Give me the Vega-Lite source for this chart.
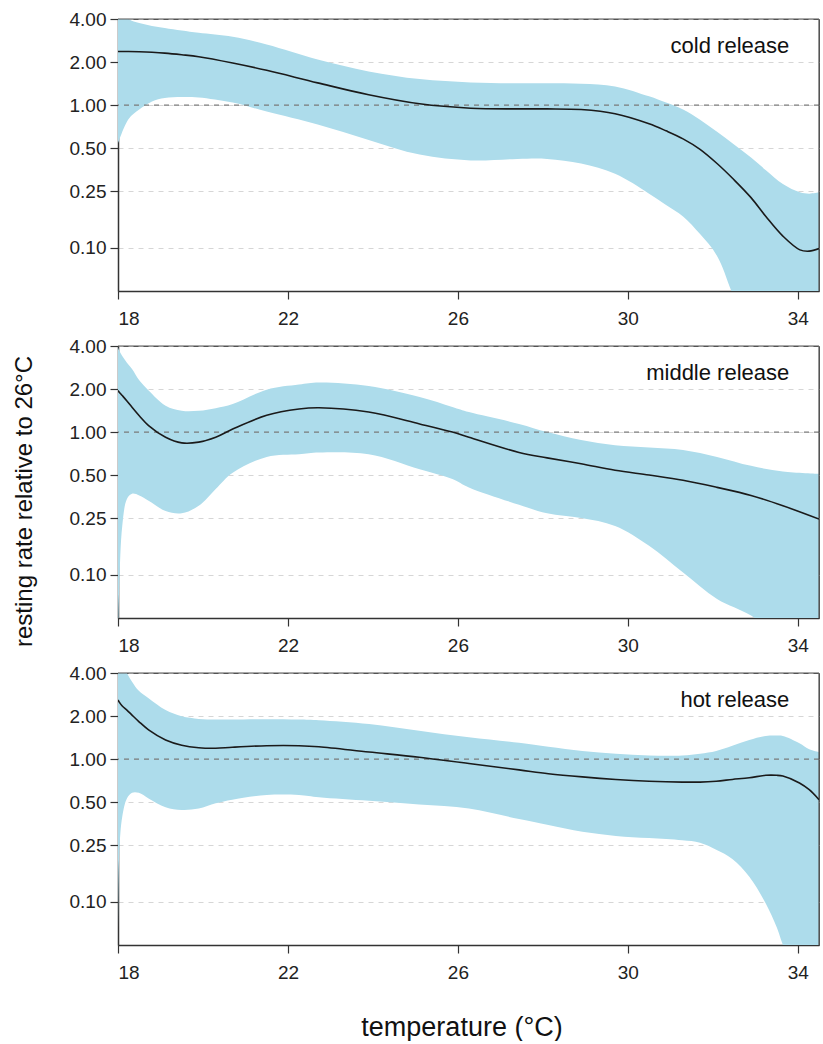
{
  "$schema": "https://vega.github.io/schema/vega-lite/v6.json",
  "background": "white",
  "padding": {"left": 11, "top": 9, "right": 0, "bottom": 0},
  "bounds": "flush",
  "spacing": 55,
  "config": {
    "font": "Liberation Sans",
    "view": {"stroke": "#555", "strokeWidth": 1},
    "axis": {
      "domainColor": "#333", "domainWidth": 1.5,
      "tickColor": "#333", "tickWidth": 1.2, "tickSize": 8,
      "labelFont": "Liberation Sans", "labelFontSize": 19, "labelColor": "#222", "labelPadding": 4,
      "titleFont": "Liberation Sans", "titleFontWeight": "normal", "titleColor": "#111"
    },
    "axisY": {"grid": true, "gridColor": "#d6d6d6", "gridDash": [5, 5], "gridWidth": 1},
    "axisX": {"grid": false, "labelPadding": 10}
  },
  "datasets": {
    "cold": [
      {"t": 18, "fit": 2.37, "lo": 0.54, "hi": 5.0},
      {"t": 18.25, "fit": 2.37, "lo": 0.80, "hi": 4.0},
      {"t": 18.5, "fit": 2.36, "lo": 0.93, "hi": 3.75},
      {"t": 18.8, "fit": 2.34, "lo": 1.06, "hi": 3.58},
      {"t": 19.1, "fit": 2.31, "lo": 1.12, "hi": 3.46},
      {"t": 19.5, "fit": 2.25, "lo": 1.14, "hi": 3.32},
      {"t": 19.9, "fit": 2.18, "lo": 1.13, "hi": 3.2},
      {"t": 20.7, "fit": 1.97, "lo": 1.04, "hi": 3.0},
      {"t": 21.5, "fit": 1.75, "lo": 0.90, "hi": 2.65},
      {"t": 22.7, "fit": 1.43, "lo": 0.73, "hi": 2.08},
      {"t": 23.9, "fit": 1.18, "lo": 0.57, "hi": 1.72},
      {"t": 25.1, "fit": 1.02, "lo": 0.45, "hi": 1.52},
      {"t": 26.3, "fit": 0.95, "lo": 0.41, "hi": 1.44},
      {"t": 27.4, "fit": 0.94, "lo": 0.42, "hi": 1.42},
      {"t": 28.1, "fit": 0.94, "lo": 0.42, "hi": 1.42},
      {"t": 28.9, "fit": 0.93, "lo": 0.39, "hi": 1.41},
      {"t": 29.7, "fit": 0.87, "lo": 0.33, "hi": 1.35},
      {"t": 30.5, "fit": 0.74, "lo": 0.24, "hi": 1.15},
      {"t": 30.9, "fit": 0.66, "lo": 0.20, "hi": 1.04},
      {"t": 31.3, "fit": 0.58, "lo": 0.166, "hi": 0.93},
      {"t": 31.7, "fit": 0.49, "lo": 0.125, "hi": 0.79},
      {"t": 32.1, "fit": 0.39, "lo": 0.088, "hi": 0.65},
      {"t": 32.5, "fit": 0.30, "lo": 0.045, "hi": 0.53},
      {"t": 32.9, "fit": 0.225, "lo": 0.025, "hi": 0.43},
      {"t": 33.25, "fit": 0.166, "lo": 0.016, "hi": 0.35},
      {"t": 33.65, "fit": 0.121, "lo": 0.011, "hi": 0.28},
      {"t": 34.05, "fit": 0.097, "lo": 0.008, "hi": 0.245},
      {"t": 34.27, "fit": 0.095, "lo": 0.007, "hi": 0.24},
      {"t": 34.5, "fit": 0.099, "lo": 0.006, "hi": 0.245}
    ],
    "middle": [
      {"t": 18, "fit": 1.95, "lo": 0.03, "hi": 3.9},
      {"t": 18.03, "fit": 1.9, "lo": 0.084, "hi": 3.7},
      {"t": 18.1, "fit": 1.8, "lo": 0.22, "hi": 3.4},
      {"t": 18.21, "fit": 1.65, "lo": 0.34, "hi": 3.05},
      {"t": 18.33, "fit": 1.49, "lo": 0.37, "hi": 2.76},
      {"t": 18.5, "fit": 1.3, "lo": 0.36, "hi": 2.3},
      {"t": 18.72, "fit": 1.11, "lo": 0.33, "hi": 1.95},
      {"t": 19.12, "fit": 0.92, "lo": 0.28, "hi": 1.53},
      {"t": 19.5, "fit": 0.84, "lo": 0.27, "hi": 1.41},
      {"t": 19.9, "fit": 0.85, "lo": 0.305, "hi": 1.41},
      {"t": 20.3, "fit": 0.92, "lo": 0.40, "hi": 1.47},
      {"t": 20.7, "fit": 1.05, "lo": 0.52, "hi": 1.57},
      {"t": 21.5, "fit": 1.31, "lo": 0.67, "hi": 1.98},
      {"t": 22.26, "fit": 1.45, "lo": 0.70, "hi": 2.15},
      {"t": 22.73, "fit": 1.48, "lo": 0.72, "hi": 2.22},
      {"t": 23.9, "fit": 1.38, "lo": 0.70, "hi": 2.1},
      {"t": 25.1, "fit": 1.14, "lo": 0.55, "hi": 1.76},
      {"t": 25.87, "fit": 1.0, "lo": 0.47, "hi": 1.5},
      {"t": 26.26, "fit": 0.92, "lo": 0.41, "hi": 1.38},
      {"t": 27.44, "fit": 0.72, "lo": 0.31, "hi": 1.14},
      {"t": 28.1, "fit": 0.66, "lo": 0.27, "hi": 1.0},
      {"t": 28.9, "fit": 0.60, "lo": 0.25, "hi": 0.88},
      {"t": 29.7, "fit": 0.54, "lo": 0.22, "hi": 0.81},
      {"t": 30.5, "fit": 0.50, "lo": 0.16, "hi": 0.78},
      {"t": 31.3, "fit": 0.46, "lo": 0.104, "hi": 0.75},
      {"t": 32.1, "fit": 0.41, "lo": 0.068, "hi": 0.67},
      {"t": 32.9, "fit": 0.36, "lo": 0.052, "hi": 0.58},
      {"t": 33.65, "fit": 0.305, "lo": 0.035, "hi": 0.53},
      {"t": 34.5, "fit": 0.246, "lo": 0.02, "hi": 0.51}
    ],
    "hot": [
      {"t": 18, "fit": 2.59, "lo": 0.04, "hi": 6.0},
      {"t": 18.03, "fit": 2.5, "lo": 0.22, "hi": 5.5},
      {"t": 18.1, "fit": 2.35, "lo": 0.395, "hi": 4.8},
      {"t": 18.21, "fit": 2.2, "lo": 0.53, "hi": 4.0},
      {"t": 18.33, "fit": 2.03, "lo": 0.58, "hi": 3.48},
      {"t": 18.49, "fit": 1.83, "lo": 0.58, "hi": 3.0},
      {"t": 18.72, "fit": 1.60, "lo": 0.53, "hi": 2.66},
      {"t": 19.12, "fit": 1.36, "lo": 0.46, "hi": 2.2},
      {"t": 19.5, "fit": 1.25, "lo": 0.44, "hi": 1.99},
      {"t": 19.9, "fit": 1.20, "lo": 0.45, "hi": 1.91},
      {"t": 20.3, "fit": 1.19, "lo": 0.49, "hi": 1.89},
      {"t": 20.69, "fit": 1.21, "lo": 0.52, "hi": 1.89},
      {"t": 21.5, "fit": 1.24, "lo": 0.56, "hi": 1.9},
      {"t": 22.26, "fit": 1.24, "lo": 0.56, "hi": 1.89},
      {"t": 22.73, "fit": 1.22, "lo": 0.54, "hi": 1.87},
      {"t": 23.91, "fit": 1.12, "lo": 0.51, "hi": 1.76},
      {"t": 25.09, "fit": 1.03, "lo": 0.48, "hi": 1.58},
      {"t": 26.26, "fit": 0.93, "lo": 0.45, "hi": 1.42},
      {"t": 27.44, "fit": 0.84, "lo": 0.38, "hi": 1.30},
      {"t": 28.13, "fit": 0.79, "lo": 0.345, "hi": 1.22},
      {"t": 28.93, "fit": 0.75, "lo": 0.31, "hi": 1.14},
      {"t": 29.72, "fit": 0.72, "lo": 0.29, "hi": 1.09},
      {"t": 30.5, "fit": 0.70, "lo": 0.28, "hi": 1.06},
      {"t": 31.28, "fit": 0.69, "lo": 0.27, "hi": 1.06},
      {"t": 31.7, "fit": 0.69, "lo": 0.26, "hi": 1.09},
      {"t": 32.08, "fit": 0.70, "lo": 0.232, "hi": 1.14},
      {"t": 32.46, "fit": 0.72, "lo": 0.20, "hi": 1.24},
      {"t": 32.86, "fit": 0.74, "lo": 0.15, "hi": 1.36},
      {"t": 33.25, "fit": 0.77, "lo": 0.097, "hi": 1.45},
      {"t": 33.5, "fit": 0.77, "lo": 0.067, "hi": 1.46},
      {"t": 33.65, "fit": 0.76, "lo": 0.05, "hi": 1.45},
      {"t": 34.04, "fit": 0.68, "lo": 0.025, "hi": 1.29},
      {"t": 34.27, "fit": 0.61, "lo": 0.018, "hi": 1.17},
      {"t": 34.5, "fit": 0.52, "lo": 0.012, "hi": 1.12}
    ],
    "one": [{"ref": 1, "top": 4, "right": 34.5}]
  },
  "vconcat": [
    {
      "width": 701, "height": 272,
      "layer": [
        {
          "data": {"name": "cold"},
          "mark": {"type": "area", "color": "#ADDCEB", "opacity": 1, "clip": true, "interpolate": "catmull-rom"},
          "encoding": {
            "x": {"field": "t", "type": "quantitative", "scale": {"domain": [18, 34.5], "nice": false, "zero": false}, "axis": {"values": [18, 22, 26, 30, 34], "title": null}},
            "y": {"field": "lo", "type": "quantitative", "scale": {"type": "log", "domain": [0.05, 4], "nice": false}, "axis": {"values": [0.1, 0.25, 0.5, 1, 2, 4], "format": ".2f", "title": null}},
            "y2": {"field": "hi"}
          }
        },
        {
          "data": {"name": "one"},
          "mark": {"type": "rule", "color": "#7a7a7a", "strokeDash": [5, 5], "strokeWidth": 1.3},
          "encoding": {"y": {"field": "ref", "type": "quantitative", "title": null}}
        },
        {
          "data": {"name": "one"},
          "mark": {"type": "rule", "color": "#555", "strokeWidth": 1.2},
          "encoding": {"y": {"field": "top", "type": "quantitative", "title": null}}
        },
        {
          "data": {"name": "one"},
          "mark": {"type": "rule", "color": "#555", "strokeWidth": 1.2},
          "encoding": {"x": {"field": "right", "type": "quantitative", "title": null}}
        },
        {
          "data": {"name": "cold"},
          "mark": {"type": "line", "color": "#1a1a1a", "strokeWidth": 1.6, "clip": true, "interpolate": "catmull-rom"},
          "encoding": {
            "x": {"field": "t", "type": "quantitative", "title": null},
            "y": {"field": "fit", "type": "quantitative", "title": null}
          }
        },
        {
          "data": {"name": "one"},
          "mark": {"type": "text", "align": "right", "baseline": "middle", "fontSize": 22, "color": "#111"},
          "encoding": {"x": {"datum": 33.8}, "y": {"datum": 2.6}, "text": {"value": "cold release"}}
        }
      ]
    },
    {
      "width": 701, "height": 272,
      "layer": [
        {
          "data": {"name": "middle"},
          "mark": {"type": "area", "color": "#ADDCEB", "opacity": 1, "clip": true, "interpolate": "catmull-rom"},
          "encoding": {
            "x": {"field": "t", "type": "quantitative", "scale": {"domain": [18, 34.5], "nice": false, "zero": false}, "axis": {"values": [18, 22, 26, 30, 34], "title": null}},
            "y": {"field": "lo", "type": "quantitative", "scale": {"type": "log", "domain": [0.05, 4], "nice": false}, "axis": {"values": [0.1, 0.25, 0.5, 1, 2, 4], "format": ".2f", "title": "resting rate relative to 26°C", "titleFontSize": 24, "titleX": -87, "titleY": 155, "titleAngle": -90, "titleAlign": "center", "titleBaseline": "alphabetic"}},
            "y2": {"field": "hi"}
          }
        },
        {
          "data": {"name": "one"},
          "mark": {"type": "rule", "color": "#7a7a7a", "strokeDash": [5, 5], "strokeWidth": 1.3},
          "encoding": {"y": {"field": "ref", "type": "quantitative"}}
        },
        {
          "data": {"name": "one"},
          "mark": {"type": "rule", "color": "#555", "strokeWidth": 1.2},
          "encoding": {"y": {"field": "top", "type": "quantitative"}}
        },
        {
          "data": {"name": "one"},
          "mark": {"type": "rule", "color": "#555", "strokeWidth": 1.2},
          "encoding": {"x": {"field": "right", "type": "quantitative"}}
        },
        {
          "data": {"name": "middle"},
          "mark": {"type": "line", "color": "#1a1a1a", "strokeWidth": 1.6, "clip": true, "interpolate": "catmull-rom"},
          "encoding": {
            "x": {"field": "t", "type": "quantitative"},
            "y": {"field": "fit", "type": "quantitative"}
          }
        },
        {
          "data": {"name": "one"},
          "mark": {"type": "text", "align": "right", "baseline": "middle", "fontSize": 22, "color": "#111"},
          "encoding": {"x": {"datum": 33.8}, "y": {"datum": 2.6}, "text": {"value": "middle release"}}
        }
      ]
    },
    {
      "width": 701, "height": 272,
      "layer": [
        {
          "data": {"name": "hot"},
          "mark": {"type": "area", "color": "#ADDCEB", "opacity": 1, "clip": true, "interpolate": "catmull-rom"},
          "encoding": {
            "x": {"field": "t", "type": "quantitative", "scale": {"domain": [18, 34.5], "nice": false, "zero": false}, "axis": {"values": [18, 22, 26, 30, 34], "title": "temperature (°C)", "titleFontSize": 27, "titleX": 343.5, "titleY": 90, "titleAlign": "center", "titleBaseline": "alphabetic"}},
            "y": {"field": "lo", "type": "quantitative", "scale": {"type": "log", "domain": [0.05, 4], "nice": false}, "axis": {"values": [0.1, 0.25, 0.5, 1, 2, 4], "format": ".2f", "title": null}},
            "y2": {"field": "hi"}
          }
        },
        {
          "data": {"name": "one"},
          "mark": {"type": "rule", "color": "#7a7a7a", "strokeDash": [5, 5], "strokeWidth": 1.3},
          "encoding": {"y": {"field": "ref", "type": "quantitative", "title": null}}
        },
        {
          "data": {"name": "one"},
          "mark": {"type": "rule", "color": "#555", "strokeWidth": 1.2},
          "encoding": {"y": {"field": "top", "type": "quantitative", "title": null}}
        },
        {
          "data": {"name": "one"},
          "mark": {"type": "rule", "color": "#555", "strokeWidth": 1.2},
          "encoding": {"x": {"field": "right", "type": "quantitative"}}
        },
        {
          "data": {"name": "hot"},
          "mark": {"type": "line", "color": "#1a1a1a", "strokeWidth": 1.6, "clip": true, "interpolate": "catmull-rom"},
          "encoding": {
            "x": {"field": "t", "type": "quantitative"},
            "y": {"field": "fit", "type": "quantitative", "title": null}
          }
        },
        {
          "data": {"name": "one"},
          "mark": {"type": "text", "align": "right", "baseline": "middle", "fontSize": 22, "color": "#111"},
          "encoding": {"x": {"datum": 33.8}, "y": {"datum": 2.6}, "text": {"value": "hot release"}}
        }
      ]
    }
  ]
}
